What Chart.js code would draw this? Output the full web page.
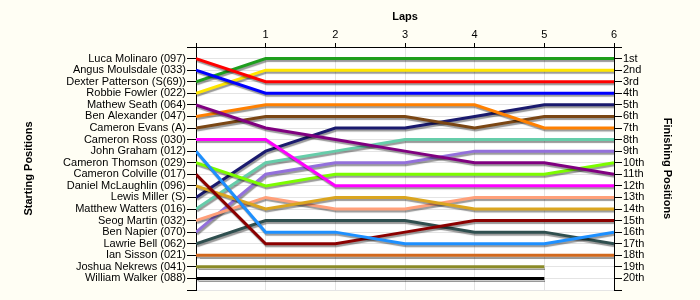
<!DOCTYPE html>
<html>
<head>
<meta charset="utf-8">
<script src="https://cdn.jsdelivr.net/npm/chart.js@4.4.1/dist/chart.umd.min.js"></script>
<style>
    html, body { margin: 0; padding: 0; background: #FFFEF4; }
    #wrap { width: 700px; height: 300px; position: relative; }
</style>
</head>
<body>
<div id="wrap"><canvas id="lapChart"></canvas></div>
<script>
// Lap chart: position of each driver at the end of every lap (lap 0 = grid)
const laps = [0, 1, 2, 3, 4, 5, 6];

const drivers = [
    'Luca Molinaro (097)', 'Angus Moulsdale (033)', 'Dexter Patterson (S(69))', 'Robbie Fowler (022)',
    'Mathew Seath (064)', 'Ben Alexander (047)', 'Cameron Evans (A)', 'Cameron Ross (030)',
    'John Graham (012)', 'Cameron Thomson (029)', 'Cameron Colville (017)', 'Daniel McLaughlin (096)',
    'Lewis Miller (S)', 'Matthew Watters (016)', 'Seog Martin (032)', 'Ben Napier (070)',
    'Lawrie Bell (062)', 'Ian Sisson (021)', 'Joshua Nekrews (041)', 'William Walker (088)',
];

const finishLabels = [
    '1st', '2nd', '3rd', '4th', '5th', '6th', '7th', '8th', '9th', '10th',
    '11th', '12th', '13th', '14th', '15th', '16th', '17th', '18th', '19th', '20th',
];

const lineColors = [
    '#FF0000', '#0000FF', '#1E9E1E', '#FFE600', '#800080', '#FF8000', '#7A4614', '#FF00FF',
    '#1E90FF', '#7CFC00', '#8B0000', '#DAA520', '#1A1A6E', '#66CDAA', '#FFA07A', '#9370DB',
    '#2F4F4F', '#D2691E', '#8B8B28', '#000000',
];

// one row per driver, same order as drivers[]
const positions = [
    [1, 3, 3, 3, 3, 3, 3],
    [2, 4, 4, 4, 4, 4, 4],
    [3, 1, 1, 1, 1, 1, 1],
    [4, 2, 2, 2, 2, 2, 2],
    [5, 7, 8, 9, 10, 10, 11],
    [6, 5, 5, 5, 5, 7, 7],
    [7, 6, 6, 6, 7, 6, 6],
    [8, 8, 12, 12, 12, 12, 12],
    [9, 16, 16, 17, 17, 17, 16],
    [10, 12, 11, 11, 11, 11, 10],
    [11, 17, 17, 16, 15, 15, 15],
    [12, 14, 13, 13, 14, 14, 14],
    [13, 9, 7, 7, 6, 5, 5],
    [14, 10, 9, 8, 8, 8, 8],
    [15, 13, 14, 14, 13, 13, 13],
    [16, 11, 10, 10, 9, 9, 9],
    [17, 15, 15, 15, 16, 16, 17],
    [18, 18, 18, 18, 18, 18, 18],
    [19, 19, 19, 19, 19, 19, null],
    [20, 20, 20, 20, 20, 20, null],
];

(function () {
    'use strict';

    const FONT = 'Liberation Sans, Arial, sans-serif';
    const GRID = '#E4E4E4';

    const plotBackground = {
        id: 'plotBackground',
        beforeDraw(chart) {
            const { ctx, chartArea: a } = chart;
            ctx.save();
            ctx.fillStyle = '#FFFFFF';
            ctx.fillRect(a.left, a.top, a.right - a.left, a.bottom - a.top);
            ctx.restore();
        },
    };

    const lineShadow = {
        id: 'lineShadow',
        beforeDatasetsDraw(chart) {
            const ctx = chart.ctx;
            ctx.save();
            ctx.shadowColor = 'rgba(0, 0, 0, 0.4)';
            ctx.shadowBlur = 1;
            ctx.shadowOffsetX = 1;
            ctx.shadowOffsetY = 2;
        },
        afterDatasetsDraw(chart) {
            chart.ctx.restore();
        },
    };

    const datasets = drivers.map((name, i) => ({
        label: name,
        data: laps.map((lap, j) => ({ x: lap, y: positions[i][j] })),
        borderColor: lineColors[i],
        borderWidth: 3,
        pointRadius: 0,
        tension: 0,
        spanGaps: false,
        yAxisID: 'y',
    }));

    function positionScale(position, labels, width, tickLength) {
        return {
            type: 'linear',
            position,
            reverse: true,
            min: 0,
            max: 21,
            afterFit(scale) { scale.width = width; },
            afterBuildTicks(scale) {
                scale.ticks = Array.from({ length: 22 }, (_, v) => ({ value: v }));
            },
            ticks: {
                autoSkip: false,
                padding: 1,
                color: '#000',
                font: { family: FONT, size: 11 },
                callback: v => labels[v - 1] || '',
            },
            grid: {
                color: GRID,
                tickColor: '#000',
                tickLength,
                drawOnChartArea: position === 'left',
            },
            border: { color: '#000' },
            title: {
                display: true,
                text: position === 'left' ? 'Starting Positions' : 'Finishing Positions',
                color: '#000',
                padding: { top: 4, bottom: 4 },
                font: { family: FONT, size: 11, weight: 'bold' },
            },
        };
    }

    new Chart(document.getElementById('lapChart'), {
        type: 'line',
        data: { datasets },
        plugins: [plotBackground, lineShadow],
        options: {
            responsive: true,
            maintainAspectRatio: false,
            animation: false,
            layout: { padding: { left: 18, right: 22, top: 6, bottom: 10 } },
            plugins: {
                legend: { display: false },
                tooltip: { enabled: false },
            },
            scales: {
                x: {
                    type: 'linear',
                    position: 'top',
                    min: 0,
                    max: 6,
                    afterFit(scale) { scale.height = 41; },
                    ticks: {
                        stepSize: 1,
                        padding: 1,
                        color: '#000',
                        font: { family: FONT, size: 11 },
                        callback: v => (v === 0 ? '' : v),
                    },
                    grid: { color: GRID, tickColor: '#000', tickLength: 4 },
                    border: { color: '#000' },
                    title: {
                        display: true,
                        text: 'Laps',
                        color: '#000',
                        padding: { top: 4, bottom: 4 },
                        font: { family: FONT, size: 11, weight: 'bold' },
                    },
                },
                y: positionScale('left', drivers, 178, 9),
                y2: positionScale('right', finishLabels, 64, 8),
            },
        },
    });
})();
</script>
</body>
</html>
